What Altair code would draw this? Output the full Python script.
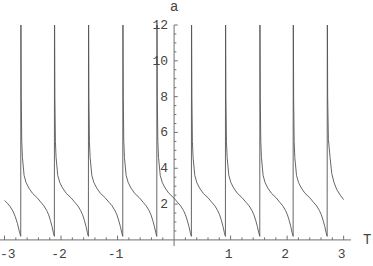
import altair as alt
import pandas as pd

# spike (asymptote) positions
spikes = [-2.713, -2.118, -1.516, -0.908, -0.306, 0.306, 0.908, 1.516, 2.106, 2.708]

# shape of one period: fraction of the period after a spike, and value of a
prof_u = [0.004, 0.015, 0.03, 0.05, 0.1, 0.16, 0.24, 0.35, 0.49, 0.6, 0.69, 0.77, 0.83, 0.88, 0.93, 0.97, 1.0]
prof_a = [14.0, 8.0, 5.5, 4.6, 3.6, 3.2, 2.9, 2.6, 2.35, 2.1, 1.9, 1.65, 1.4, 1.1, 0.75, 0.4, 0.2]

# partial period at the left edge
left_T = [-3.0, -2.95, -2.9, -2.85, -2.81, -2.77, -2.74, -2.713]
left_a = [2.2, 2.05, 1.86, 1.6, 1.3, 0.9, 0.5, 0.2]

# partial period at the right edge
right_T = [2.711, 2.717, 2.73, 2.76, 2.79, 2.83, 2.88, 2.94, 3.0]
right_a = [14.0, 8.0, 5.6, 4.6, 3.7, 3.2, 2.8, 2.5, 2.25]

x_labels = [-2, -1, 1, 2, 3]
x_label_edge = [-3]
y_labels = [2, 4, 6, 8, 10, 12]

XMIN, XMAX = -3.08, 3.13
YMIN, YMAX = -0.34, 12.0

rows_T, rows_a = list(left_T), list(left_a)
for s0, s1 in zip(spikes[:-1], spikes[1:]):
    w = s1 - s0
    for u, a in zip(prof_u, prof_a):
        rows_T.append(s0 + u * w)
        rows_a.append(a)
rows_T += right_T
rows_a += right_a
line_df = pd.DataFrame({"T": rows_T, "a": rows_a, "i": list(range(len(rows_T)))})

xs = alt.Scale(domain=[XMIN, XMAX], nice=False, zero=False)
ys = alt.Scale(domain=[YMIN, YMAX], nice=False, zero=False)
AX = "#707070"
TXT = "#444444"


def X(f):
    return alt.X(f, type="quantitative", scale=xs, axis=None)


def Y(f):
    return alt.Y(f, type="quantitative", scale=ys, axis=None)


line = alt.Chart(line_df).mark_line(color="#555555", strokeWidth=0.9, clip=True).encode(
    x=X("T"), y=Y("a"), order=alt.Order("i", type="quantitative"),
)

xaxis = alt.Chart(pd.DataFrame({"x": [XMIN], "x2": [XMAX], "y": [0.0]})).mark_rule(color=AX, strokeWidth=1).encode(
    x=X("x"), x2=alt.X2("x2"), y=Y("y"))
yaxis = alt.Chart(pd.DataFrame({"y": [YMIN], "y2": [YMAX], "x": [0.0]})).mark_rule(color=AX, strokeWidth=1).encode(
    y=Y("y"), y2=alt.Y2("y2"), x=X("x"))

xt = [round(-3 + 0.2 * k, 1) for k in range(31)]
xt = [v for v in xt if abs(v) > 1e-9]
xt_df = pd.DataFrame({"x": xt, "y": [0.0] * len(xt),
                      "y2": [0.24 if abs(v - round(v)) < 1e-6 else 0.14 for v in xt]})
xticks = alt.Chart(xt_df).mark_rule(color=AX, strokeWidth=1).encode(
    x=X("x"), y=Y("y"), y2=alt.Y2("y2"))

yt = [0.5 * k for k in range(1, 25)]
yt_df = pd.DataFrame({"y": yt, "x": [0.0] * len(yt),
                      "x2": [0.065 if v % 2 == 0 else 0.04 for v in yt]})
yticks = alt.Chart(yt_df).mark_rule(color=AX, strokeWidth=1).encode(
    y=Y("y"), x=X("x"), x2=alt.X2("x2"))

FONT = "Liberation Mono"
xl = alt.Chart(pd.DataFrame({"x": x_labels, "y": [0.0] * len(x_labels), "t": [str(v) for v in x_labels]})).mark_text(
    font=FONT, fontSize=13, color=TXT, baseline="middle", align="center", dy=14, dx=-2).encode(
    x=X("x"), y=Y("y"), text=alt.Text("t", type="nominal"))
xl_edge = alt.Chart(pd.DataFrame({"x": x_label_edge, "y": [0.0], "t": [str(v) for v in x_label_edge]})).mark_text(
    font=FONT, fontSize=13, color=TXT, baseline="middle", align="left", dy=14, dx=-4.5).encode(
    x=X("x"), y=Y("y"), text=alt.Text("t", type="nominal"))
yl = alt.Chart(pd.DataFrame({"y": y_labels, "x": [0.0] * 6, "t": [str(v) for v in y_labels]})).mark_text(
    font=FONT, fontSize=13, color=TXT, baseline="middle", align="right", dx=-6).encode(
    x=X("x"), y=Y("y"), text=alt.Text("t", type="nominal"))

tl = alt.Chart(pd.DataFrame({"x": [XMAX], "y": [0.0], "t": ["T"]})).mark_text(
    font=FONT, fontSize=14, color=TXT, baseline="middle", align="left", dx=12).encode(
    x=X("x"), y=Y("y"), text=alt.Text("t", type="nominal"))
al = alt.Chart(pd.DataFrame({"x": [0.0], "y": [YMAX], "t": ["a"]})).mark_text(
    font=FONT, fontSize=14, color=TXT, baseline="middle", align="center", dy=-18).encode(
    x=X("x"), y=Y("y"), text=alt.Text("t", type="nominal"))

chart = alt.layer(xaxis, yaxis, xticks, yticks, line, xl, xl_edge, yl, tl, al).properties(
    width=351, height=221,
    padding={"left": 0, "top": 25, "right": 22, "bottom": 20},
    autosize=alt.AutoSizeParams(type="none"),
    background="white",
).configure_view(strokeWidth=0)

chart.save("out.html", embed_options={"renderer": "svg", "actions": False})
